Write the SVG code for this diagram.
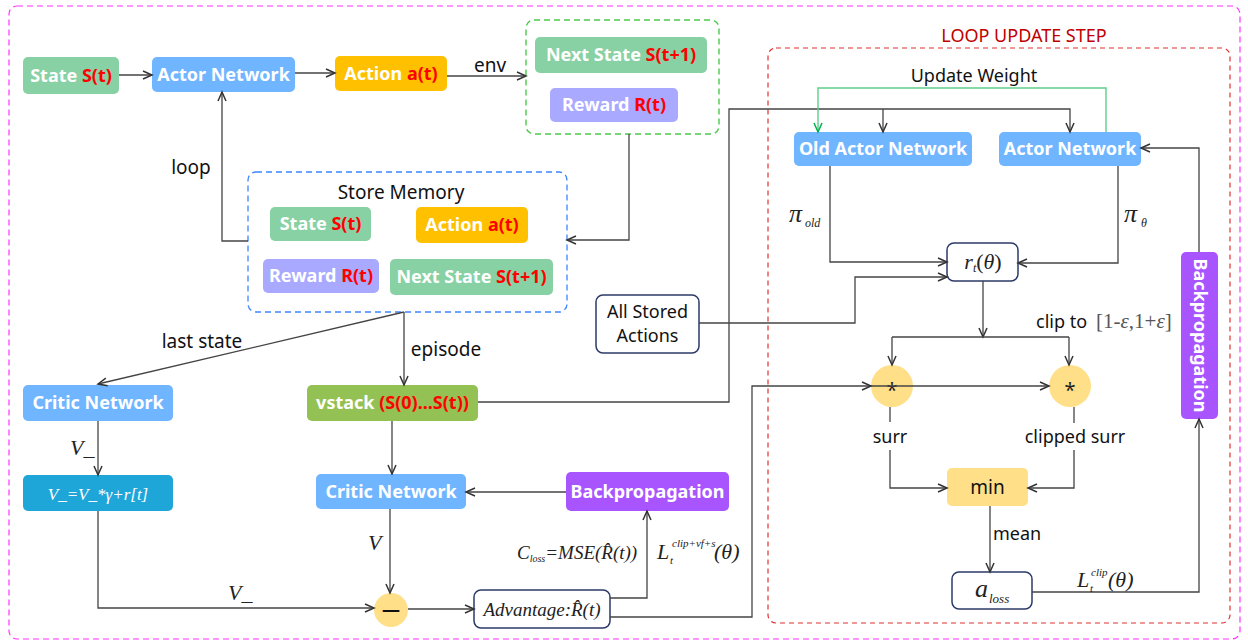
<svg xmlns="http://www.w3.org/2000/svg" width="1248" height="642" viewBox="0 0 1248 642">
<style>
.nt{font-family:"Noto Sans","Open Sans",sans-serif;font-weight:bold;font-size:18px;fill:#fff;text-anchor:middle}
.red{fill:#ff0000}
.lb{font-family:"Noto Sans","Open Sans",sans-serif;font-size:19px;fill:#111}
.sm{font-family:"Noto Sans","Open Sans",sans-serif;font-size:18px;fill:#111}
.m{font-family:"Liberation Serif","Times New Roman",serif;font-style:italic;fill:#222}
.wb{fill:#fff;stroke:#2b3a67;stroke-width:1.5}
.c{fill:none;stroke:#444;stroke-width:1.3}
.ca{fill:none;stroke:#444;stroke-width:1.3;marker-end:url(#ar)}
.green{fill:#88d1a4}.blue{fill:#70b5ff}.orange{fill:#ffc000}.purple{fill:#a9a9ff}
.bp{fill:#a855ff}.yel{fill:#ffdf88}
</style>
<defs>
<marker id="ar" markerWidth="12" markerHeight="10" refX="10" refY="5" orient="auto" markerUnits="userSpaceOnUse"><path d="M1,1 L10,5 L1,9" fill="none" stroke="#333" stroke-width="1.5"/></marker>
<marker id="arg" markerWidth="12" markerHeight="10" refX="10" refY="5" orient="auto" markerUnits="userSpaceOnUse"><path d="M1,1 L10,5 L1,9" fill="none" stroke="#00b050" stroke-width="1.5"/></marker>
</defs>
<rect width="1248" height="642" fill="#fff"/>

<!-- containers -->
<g id="outer"><rect x="9" y="6" width="1231" height="633" rx="8" fill="none" stroke="#ff33ff" stroke-width="1.2" stroke-dasharray="6 4"/></g>
<g id="env-box"><rect x="526" y="20" width="193" height="114" rx="8" fill="none" stroke="#4cc94c" stroke-width="1.4" stroke-dasharray="6 4"/></g>
<g id="loop-box">
<rect x="768" y="48" width="462" height="575" rx="8" fill="none" stroke="#e03030" stroke-width="1.2" stroke-dasharray="5 4"/>
<text x="1024" y="42" text-anchor="middle" style="font-family:'Noto Sans',sans-serif;font-size:18px;fill:#c00000">LOOP UPDATE STEP</text>
</g>

<!-- nodes -->
<g id="state"><rect class="green" x="23" y="57" width="96" height="37" rx="5"/><text class="nt" x="71" y="82">State <tspan class="red">S(t)</tspan></text></g>
<g id="actor-network"><rect class="blue" x="152" y="57" width="143" height="35" rx="5"/><text class="nt" x="223.5" y="81">Actor Network</text></g>
<g id="action"><rect class="orange" x="335" y="56" width="112" height="35" rx="5"/><text class="nt" x="391" y="80">Action <tspan class="red">a(t)</tspan></text></g>
<g id="env-next-state"><rect class="green" x="535" y="37" width="172" height="36" rx="5"/><text class="nt" x="621" y="61">Next State <tspan class="red">S(t+1)</tspan></text></g>
<g id="env-reward"><rect class="purple" x="550" y="88" width="128" height="34" rx="5"/><text class="nt" x="614" y="111">Reward <tspan class="red">R(t)</tspan></text></g>

<g id="store-memory">
<rect x="248" y="172" width="319" height="140" rx="8" fill="none" stroke="#3d85ff" stroke-width="1.3" stroke-dasharray="6 4"/>
<text class="lb" x="401" y="199" text-anchor="middle">Store Memory</text>
<rect class="green" x="270" y="207" width="101" height="34" rx="5"/><text class="nt" x="320.5" y="230">State <tspan class="red">S(t)</tspan></text>
<rect class="orange" x="416" y="207" width="112" height="36" rx="5"/><text class="nt" x="472" y="231">Action <tspan class="red">a(t)</tspan></text>
<rect class="purple" x="263" y="259" width="116" height="34" rx="5"/><text class="nt" x="321" y="282">Reward <tspan class="red">R(t)</tspan></text>
<rect class="green" x="390" y="259" width="163" height="36" rx="5"/><text class="nt" x="471.5" y="283">Next State <tspan class="red">S(t+1)</tspan></text>
</g>

<g id="critic-last"><rect class="blue" x="23" y="385" width="150" height="36" rx="5"/><text class="nt" x="98" y="409">Critic Network</text></g>
<g id="vstack"><rect fill="#94c153" x="307" y="385" width="171" height="36" rx="5"/><text class="nt" x="392.5" y="409">vstack <tspan class="red">(S(0)...S(t))</tspan></text></g>
<g id="discount"><rect fill="#1fa6d9" x="23" y="475" width="150" height="36" rx="5"/><text class="m" x="98" y="500" font-size="17" text-anchor="middle" style="fill:#fff">V_=V_*γ+r[t]</text></g>
<g id="critic-episode"><rect class="blue" x="316" y="474" width="150" height="35" rx="5"/><text class="nt" x="391" y="498">Critic Network</text></g>
<g id="backprop-critic"><rect class="bp" x="566" y="472" width="163" height="39" rx="5"/><text class="nt" x="647.5" y="498">Backpropagation</text></g>
<g id="minus"><circle class="yel" cx="391" cy="610" r="17"/><text x="391" y="616" text-anchor="middle" style="font-family:'Noto Sans',sans-serif;font-weight:bold;font-size:18px;fill:#111">—</text></g>
<g id="advantage"><rect class="wb" x="474" y="590" width="136" height="38" rx="7"/><text class="m" x="542" y="616" font-size="19" text-anchor="middle">Advantage:R̂(t)</text></g>
<g id="all-stored-actions"><rect class="wb" x="596" y="295" width="103" height="58" rx="7"/><text class="sm" x="647.5" y="318" text-anchor="middle">All Stored</text><text class="sm" x="647.5" y="342" text-anchor="middle">Actions</text></g>

<g id="old-actor"><rect class="blue" x="794" y="132" width="178" height="34" rx="5"/><text class="nt" x="883" y="155">Old Actor Network</text></g>
<g id="actor-update"><rect class="blue" x="999" y="132" width="142" height="34" rx="5"/><text class="nt" x="1070" y="155">Actor Network</text></g>
<g id="ratio"><rect class="wb" x="947" y="243" width="71" height="38" rx="7"/><text class="m" x="983" y="269" font-size="22" text-anchor="middle">r<tspan font-size="12" dy="3">t</tspan><tspan dy="-3" font-style="normal">(</tspan>θ<tspan font-style="normal">)</tspan></text></g>
<g id="surr-mul"><circle class="yel" cx="892" cy="386" r="21"/><text x="892" y="397" text-anchor="middle" style="font-family:'Noto Sans',sans-serif;font-size:20px;fill:#222">*</text></g>
<g id="clip-mul"><circle class="yel" cx="1070" cy="386" r="21"/><text x="1070" y="397" text-anchor="middle" style="font-family:'Noto Sans',sans-serif;font-size:20px;fill:#222">*</text></g>
<g id="min"><rect class="yel" x="947" y="468" width="81" height="38" rx="5"/><text class="lb" x="987.5" y="494" text-anchor="middle">min</text></g>
<g id="a-loss"><rect class="wb" x="952" y="572" width="80" height="37" rx="7"/><text class="m" x="975" y="597" font-size="26">a</text><text class="m" x="989" y="603" font-size="13">loss</text></g>
<g id="backprop-actor"><rect class="bp" x="1181" y="252" width="37" height="167" rx="5"/><text class="nt" transform="translate(1199.5,335.5) rotate(90)" x="0" y="6">Backpropagation</text></g>

<!-- connectors -->
<g id="connectors">
<path class="ca" d="M119,75 H152"/>
<path class="ca" d="M295,73 H335"/>
<path class="ca" d="M447,76 H526"/>
<path class="ca" d="M629,134 V240 H567"/>
<path class="ca" d="M248,241 H222 V92"/>
<path class="ca" d="M404,312 L98,384"/>
<path class="ca" d="M404,312 V385"/>
<path class="ca" d="M392,421 V474"/>
<path class="ca" d="M478,402 H729 V109 H1070 V132"/>
<path class="ca" d="M883,109 V132"/>
<path class="ca" d="M98,421 V475"/>
<path class="ca" d="M98,511 V608 H374"/>
<path class="ca" d="M390,509 V593"/>
<path class="ca" d="M408,609 H474"/>
<path class="ca" d="M610,598 H647 V511"/>
<path class="ca" d="M566,492 H466"/>
<path class="ca" d="M610,617 H752 V386 H871"/>
<path class="ca" d="M871,386 H1049"/>
<path d="M1106,132 V88 H818 V132" fill="none" stroke="#5ccf88" stroke-width="1.4" marker-end="url(#arg)"/>
<path class="ca" d="M830,166 V262 H947"/>
<path class="ca" d="M699,323 H855 V277 H947"/>
<path class="ca" d="M1118,166 V263 H1018"/>
<path class="ca" d="M983,281 V337"/>
<path class="c" d="M892,337 H1069"/>
<path class="ca" d="M892,337 V365"/>
<path class="ca" d="M1069,337 V365"/>
<path class="c" d="M890,407 V422"/>
<path class="ca" d="M890,450 V488 H947"/>
<path class="c" d="M1074,407 V423"/>
<path class="ca" d="M1074,450 V488 H1028"/>
<path class="ca" d="M990,506 V572"/>
<path class="ca" d="M1032,592 H1199 V419"/>
<path class="ca" d="M1199,252 V148 H1141"/>
<!-- connector labels -->
<text class="lb" x="490" y="72" text-anchor="middle">env</text>
<text class="lb" x="191" y="174" text-anchor="middle">loop</text>
<text class="lb" x="202" y="348" text-anchor="middle">last state</text>
<text class="lb" x="446" y="356" text-anchor="middle">episode</text>
<text class="lb" x="974" y="82" text-anchor="middle" style="font-size:18px">Update Weight</text>
<text class="m" x="789" y="222" font-size="26">π</text>
<text class="m" x="805" y="227" font-size="12">old</text>
<text class="m" x="1124" y="222" font-size="26">π</text>
<text class="m" x="1141" y="227" font-size="12">θ</text>
<text class="sm" x="1036" y="328">clip to</text>
<text x="1096" y="328" style="font-family:'Liberation Serif',serif;font-size:21px;fill:#555">[1-<tspan font-style="italic">ε</tspan>,1+<tspan font-style="italic">ε</tspan>]</text>
<text class="sm" x="890" y="443" text-anchor="middle">surr</text>
<text class="sm" x="1075" y="443" text-anchor="middle">clipped surr</text>
<text class="sm" x="993" y="540">mean</text>
<text class="m" x="1077" y="587" font-size="22">L</text>
<text class="m" x="1091" y="576" font-size="11">clip</text>
<text class="m" x="1090" y="592" font-size="11">t</text>
<text class="m" x="1108" y="587" font-size="22" font-style="normal">(<tspan font-style="italic">θ</tspan>)</text>
<text class="m" x="70" y="455" font-size="22">V_</text>
<text class="m" x="368" y="550" font-size="22">V</text>
<text class="m" x="228" y="600" font-size="22">V_</text>
<text class="m" x="517" y="559" font-size="19">C<tspan font-size="10" dy="3">loss</tspan><tspan dy="-3">=MSE(R̂(t))</tspan></text>
<text class="m" x="657" y="559" font-size="22">L</text>
<text class="m" x="672" y="547" font-size="11">clip+vf+s</text>
<text class="m" x="670" y="564" font-size="11">t</text>
<text class="m" x="714" y="559" font-size="22" font-style="normal">(<tspan font-style="italic">θ</tspan>)</text>
</g>
</svg>
